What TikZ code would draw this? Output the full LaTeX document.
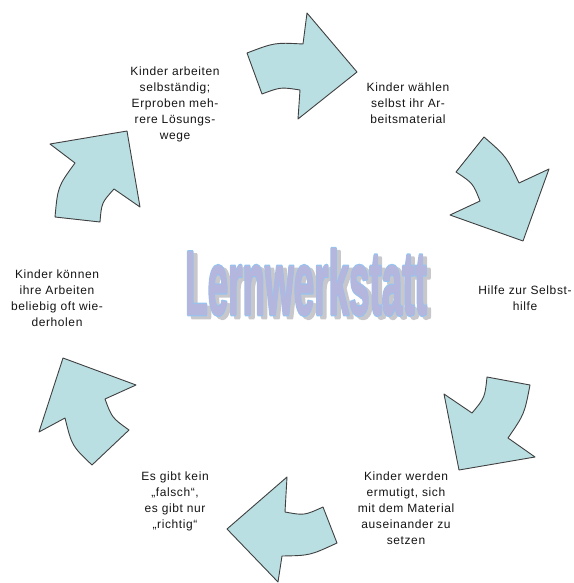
\documentclass[tikz,border=0pt]{standalone}
\usepackage{fontspec}
\usepackage{graphicx}
\setmainfont{Liberation Sans}
\newfontfamily\lblfont{Liberation Sans}[LetterSpace=5]
\definecolor{arrfill}{RGB}{185,223,227}
\definecolor{arrline}{RGB}{64,64,64}
\definecolor{txt}{RGB}{20,20,20}
\definecolor{lwfill}{RGB}{180,182,222}
\definecolor{lwline}{RGB}{150,196,240}
\definecolor{lwshadow}{RGB}{200,200,204}
\tikzset{
  arr/.style={fill=arrfill, draw=arrline, line width=0.9pt, line join=round},
  lbl/.style={align=center, inner sep=0pt, text=txt, font=\lblfont\fontsize{12}{16}\selectfont},
  lw/.style={inner sep=0pt, font=\fontsize{91}{91}\selectfont\bfseries}
}
% stroked WordArt text: #1 = stroke colour as "r g b", #2 = stroke width
\newcommand{\lwtext}[2]{\special{pdf:literal direct #1 RG 2 Tr #2 w 1 j}\scalebox{0.405}[1]{Lernwerkstatt}\special{pdf:literal direct 0 Tr}}
\begin{document}
\begin{tikzpicture}[x=1pt,y=-1pt]
\useasboundingbox (0,0) rectangle (573,583);
% arrows
\draw[arr] (247,53) .. controls (274.6,42.5) .. (303,44) -- (307,13) -- (357,72) -- (298,119) -- (300,90) .. controls (280.7,87) .. (262,94) -- cycle;
\draw[arr] (484,137) .. controls (506.5,156.6) .. (519,183) -- (549,169) -- (523,241) -- (450,215) -- (480,201) .. controls (473,183.3) .. (456,172) -- cycle;
\draw[arr] (487,377) -- (530,385) .. controls (524.4,414.1) .. (508,438) -- (535,457) -- (459,470) -- (444,394) -- (472,413) .. controls (484.8,397.7) .. cycle;
\draw[arr] (287,477) -- (285,512) .. controls (304.3,515.5) .. (323,507) -- (337,543) .. controls (310,555.5) .. (282,556) -- (278,582) -- (227,529) -- cycle;
\draw[arr] (63,358) -- (136,385) -- (105,399) .. controls (112,417.8) .. (129,430) -- (92,465) .. controls (71.9,445.9) .. (65,418) -- (39,432) -- cycle;
\draw[arr] (50,144) -- (127,131) -- (140,207) -- (114,189) .. controls (101.6,202.8) .. (100,222) -- (55,217) .. controls (57.8,186.6) .. (75,163) -- cycle;
% labels
\node[lbl] (t1) at (175,104) {Kinder arbeiten\\selbständig;\\Erproben meh-\\rere Lösungs-\\wege};
\node[lbl] (t2) at (408,103) {Kinder wählen\\selbst ihr Ar-\\beitsmaterial};
\node[lbl] (t3) at (525,298) {Hilfe zur Selbst-\\hilfe};
\node[lbl] (t4) at (406,508) {Kinder werden\\ermutigt, sich\\mit dem Material\\auseinander zu\\setzen};
\node[lbl] (t5) at (175,501) {Es gibt kein\\„falsch“,\\es gibt nur\\„richtig“};
\node[lbl] (t6) at (57,298) {Kinder können\\ihre Arbeiten\\beliebig oft wie-\\derholen};
% WordArt title: shadow, outline, fill
\node[lw, text=lwshadow] (lwshadow) at (310,285) {\lwtext{0.784 0.784 0.8}{3.6}};
\node[lw, text=lwline] (lwoutline) at (306,282) {\lwtext{0.588 0.769 0.941}{3.6}};
\node[lw, text=lwfill] (title) at (306,282) {\lwtext{0.706 0.714 0.871}{1.2}};
\end{tikzpicture}
\end{document}
